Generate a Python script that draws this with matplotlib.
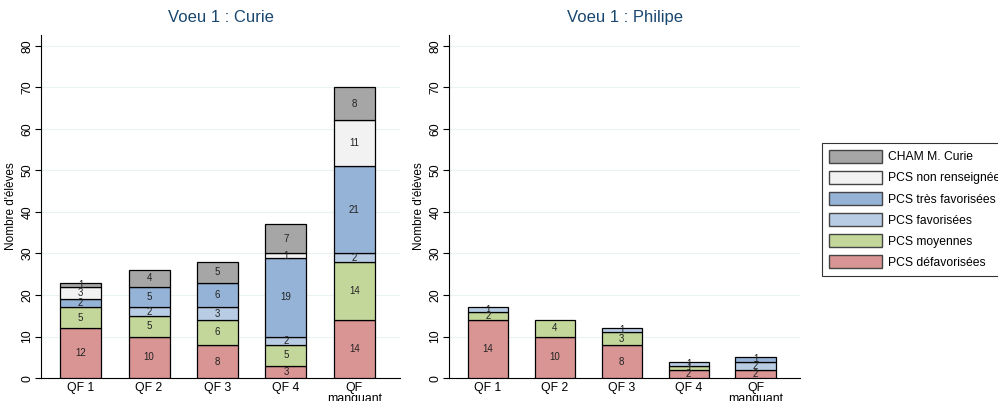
import matplotlib
matplotlib.use("Agg")
import matplotlib.pyplot as plt
import numpy as np
from matplotlib.patches import Patch

plt.rc("font", family="Liberation Sans")

categories = ["QF 1", "QF 2", "QF 3", "QF 4", "QF\nmanquant"]
series = ["PCS défavorisées", "PCS moyennes", "PCS favorisées",
          "PCS très favorisées", "PCS non renseignée", "CHAM M. Curie"]
colors = ["#d99594", "#c4d79b", "#b8cce4", "#95b3d7", "#f2f2f2", "#a6a6a6"]

curie = {
    "PCS défavorisées": [12, 10, 8, 3, 14],
    "PCS moyennes": [5, 5, 6, 5, 14],
    "PCS favorisées": [0, 2, 3, 2, 2],
    "PCS très favorisées": [2, 5, 6, 19, 21],
    "PCS non renseignée": [3, 0, 0, 1, 11],
    "CHAM M. Curie": [1, 4, 5, 7, 8],
}
philipe = {
    "PCS défavorisées": [14, 10, 8, 2, 2],
    "PCS moyennes": [2, 4, 3, 1, 0],
    "PCS favorisées": [1, 0, 1, 1, 2],
    "PCS très favorisées": [0, 0, 0, 0, 1],
    "PCS non renseignée": [0, 0, 0, 0, 0],
    "CHAM M. Curie": [0, 0, 0, 0, 0],
}

fig = plt.figure(figsize=(9.98, 4.01), dpi=100)
ax1 = fig.add_axes([0.041, 0.057, 0.36, 0.856])
ax2 = fig.add_axes([0.45, 0.057, 0.352, 0.856])

title_col = "#1a476f"
x = np.arange(len(categories))


def draw(ax, data, title):
    bottom = np.zeros(len(categories))
    for s, c in zip(series, colors):
        vals = np.array(data[s], dtype=float)
        bars = ax.bar(x, vals, 0.6, bottom=bottom, color=c,
                      edgecolor="black", linewidth=0.9, zorder=3)
        for b, v, bt in zip(bars, vals, bottom):
            if v > 0:
                ax.text(b.get_x() + b.get_width() / 2, bt + v / 2, f"{int(v)}",
                        ha="center", va="center", fontsize=7, color="#222222",
                        zorder=4)
            else:
                b.set_visible(False)
        bottom += vals
    ax.set_xlim(-0.58, 4.67)
    ax.set_ylim(0, 82.6)
    ax.set_yticks(range(0, 81, 10))
    ax.set_xticks(x)
    ax.set_xticklabels(categories, fontsize=8.8, linespacing=0.85)
    ax.tick_params(axis="x", length=0, pad=3)
    ax.tick_params(axis="y", labelsize=8.8, labelrotation=90, length=4, pad=1.5)
    for lab in ax.get_yticklabels():
        lab.set_va("center")
    ax.set_ylabel("Nombre d'élèves", fontsize=8.5, labelpad=3)
    ax.spines["top"].set_visible(False)
    ax.spines["right"].set_visible(False)
    ax.grid(axis="y", color="#eaf2f3", linewidth=0.8, zorder=0)
    ax.set_title(title, fontsize=12, color=title_col, pad=9)


draw(ax1, curie, "Voeu 1 : Curie")
draw(ax2, philipe, "Voeu 1 : Philipe")

handles = [Patch(facecolor=c, edgecolor="#444444", label=s)
           for s, c in zip(series, colors)][::-1]
leg = fig.legend(handles=handles, loc="upper left",
                 bbox_to_anchor=(816 / 998, 1 - 137 / 401),
                 fontsize=8.7, frameon=True, fancybox=False,
                 edgecolor="black", handlelength=4.4, handleheight=1.3,
                 labelspacing=0.62, borderpad=0.55, handletextpad=0.55)
leg.get_frame().set_linewidth(0.8)

fig.savefig("out.png", dpi=100)
